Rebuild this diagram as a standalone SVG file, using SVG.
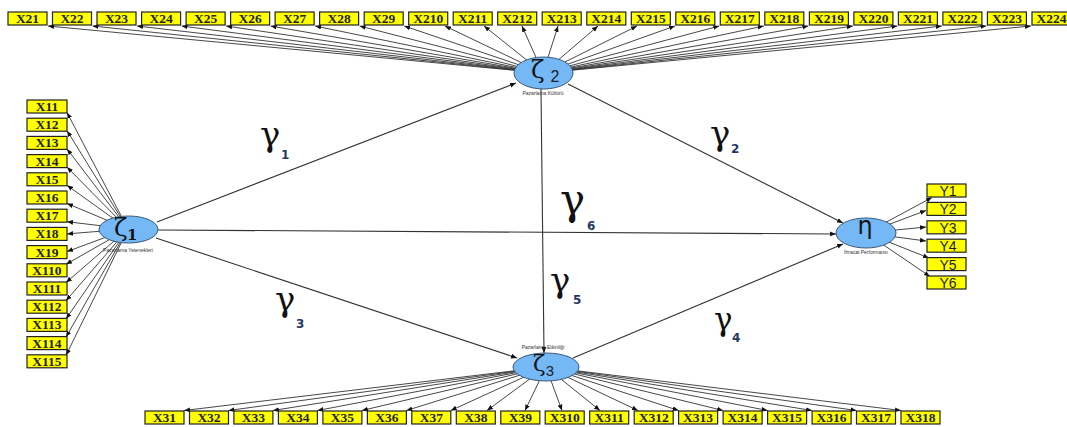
<svg xmlns="http://www.w3.org/2000/svg" width="1067" height="427" viewBox="0 0 1067 427">
<style>
.bx{fill:#ffff00;stroke:#222;stroke-width:1.2}
.bt{font-family:"Liberation Serif",serif;font-weight:bold;font-size:13.5px;fill:#222;text-anchor:middle}
.yt{font-family:"Liberation Sans",sans-serif;font-size:14px;fill:#222;text-anchor:middle}
.el{fill:#74b8f6;stroke:#3a5878;stroke-width:1}
.ln{stroke:#333;stroke-width:0.9;fill:none;marker-end:url(#a)}
.mn{stroke:#333;stroke-width:1.1;fill:none;marker-end:url(#a)}
.cap{font-family:"Liberation Sans",sans-serif;font-size:5px;fill:#333;text-anchor:middle}
.gk{font-family:"DejaVu Serif",serif;fill:#111}
.g{font-family:"DejaVu Serif",serif;fill:#111}
.sb{font-family:"DejaVu Sans",sans-serif;font-size:12px;font-weight:bold;fill:#1f3864}
</style>
<defs>
<marker id="a" viewBox="0 0 10 10" refX="10" refY="5" markerWidth="6" markerHeight="6" markerUnits="userSpaceOnUse" orient="auto"><path d="M0,1 L10,5 L0,9z" fill="#111"/></marker>
</defs>
<rect width="1067" height="427" fill="#fff"/>
<g id="connectors">
<path class="ln" d="M543,73 L48,26"/><path class="ln" d="M543,73 L92.5,26"/><path class="ln" d="M543,73 L137,26"/><path class="ln" d="M543,73 L181.6,26"/><path class="ln" d="M543,73 L226.1,26"/><path class="ln" d="M543,73 L270.6,26"/><path class="ln" d="M543,73 L315.1,26"/><path class="ln" d="M543,73 L359.6,26"/><path class="ln" d="M543,73 L404.2,26"/><path class="ln" d="M543,73 L445,26"/><path class="ln" d="M543,73 L484,26"/><path class="ln" d="M543,73 L522,26"/><path class="ln" d="M543,73 L558,26"/><path class="ln" d="M543,73 L598,26"/><path class="ln" d="M543,73 L637,26"/><path class="ln" d="M543,73 L675,26"/><path class="ln" d="M543,73 L719.3,26"/><path class="ln" d="M543,73 L763.8,26"/><path class="ln" d="M543,73 L808.4,26"/><path class="ln" d="M543,73 L852.9,26"/><path class="ln" d="M543,73 L897.4,26"/><path class="ln" d="M543,73 L941.9,26"/><path class="ln" d="M543,73 L986.4,26"/><path class="ln" d="M543,73 L1031,26"/>
<path class="ln" d="M128,229 L67,112.5"/><path class="ln" d="M128,229 L67,130.7"/><path class="ln" d="M128,229 L67,148.9"/><path class="ln" d="M128,229 L67,167.1"/><path class="ln" d="M128,229 L67,185.3"/><path class="ln" d="M128,229 L67,203.5"/><path class="ln" d="M128,229 L67,221.7"/><path class="ln" d="M128,229 L67,233.9"/><path class="ln" d="M128,229 L67,251.6"/><path class="ln" d="M128,229 L66,264.3"/><path class="ln" d="M128,229 L66,282.5"/><path class="ln" d="M128,229 L66,300.7"/><path class="ln" d="M128,229 L66,318.9"/><path class="ln" d="M128,229 L66,337.1"/><path class="ln" d="M128,229 L66,355.3"/>
<path class="ln" d="M866,233 L932,197.5"/><path class="ln" d="M866,233 L926,210.5"/><path class="ln" d="M866,233 L926,227"/><path class="ln" d="M866,233 L926,241"/><path class="ln" d="M866,233 L929,258"/><path class="ln" d="M866,233 L930,276.5"/>
<path class="ln" d="M546,367 L184,410.5"/><path class="ln" d="M546,367 L228.5,410.5"/><path class="ln" d="M546,367 L272.9,410.5"/><path class="ln" d="M546,367 L317.4,410.5"/><path class="ln" d="M546,367 L361.9,410.5"/><path class="ln" d="M546,367 L406.4,410.5"/><path class="ln" d="M546,367 L450.8,410.5"/><path class="ln" d="M546,367 L487,410.5"/><path class="ln" d="M546,367 L525,410.5"/><path class="ln" d="M546,367 L562,410.5"/><path class="ln" d="M546,367 L600,410.5"/><path class="ln" d="M546,367 L638,410.5"/><path class="ln" d="M546,367 L678.6,410.5"/><path class="ln" d="M546,367 L723.1,410.5"/><path class="ln" d="M546,367 L767.6,410.5"/><path class="ln" d="M546,367 L812.1,410.5"/><path class="ln" d="M546,367 L856.5,410.5"/><path class="ln" d="M546,367 L901,410.5"/>
<path class="mn" d="M157,222 L516,83"/>
<path class="mn" d="M158,230 L836,234"/>
<path class="mn" d="M156,238 L517,358"/>
<path class="mn" d="M568,84 L843,223"/>
<path class="mn" d="M573,358 L843,244"/>
<path class="mn" d="M541,89 L544,353"/>
</g>
<g id="zeta1"><ellipse class="el" cx="128.5" cy="229.5" rx="29.5" ry="13.5"/><text class="gk" x="114" y="236" font-size="25">ζ</text><text class="g" x="127" y="240" font-size="15" font-weight="bold">1</text><text class="cap" x="128" y="252">Pazarlama Yetenekleri</text></g>
<g id="zeta2"><ellipse class="el" cx="543.5" cy="73" rx="29.5" ry="16"/><text class="gk" x="531" y="78" font-size="25">ζ</text><text class="yt" x="555" y="82" style="font-size:16px">2</text><text class="cap" x="543" y="95">Pazarlama Kültürü</text></g>
<g id="zeta3"><ellipse class="el" cx="546" cy="367" rx="33" ry="14"/><text class="gk" x="533" y="371" font-size="23">ζ</text><text class="yt" x="550" y="376" style="font-size:15px">3</text><text class="cap" x="543" y="349">Pazarlama Etkinliği</text></g>
<g id="eta"><ellipse class="el" cx="866" cy="233" rx="30" ry="15"/><text x="865" y="234" font-size="24" text-anchor="middle" font-family="DejaVu Sans, sans-serif" fill="#111">η</text><text class="cap" x="866" y="254">İhracat Performansı</text></g>
<g id="X21"><rect class="bx" x="8" y="12" width="39" height="13"/><text class="bt" x="27.5" y="23">X21</text></g>
<g id="X22"><rect class="bx" x="52.5" y="12" width="39" height="13"/><text class="bt" x="72" y="23">X22</text></g>
<g id="X23"><rect class="bx" x="97" y="12" width="39" height="13"/><text class="bt" x="116.5" y="23">X23</text></g>
<g id="X24"><rect class="bx" x="141.6" y="12" width="39" height="13"/><text class="bt" x="161.1" y="23">X24</text></g>
<g id="X25"><rect class="bx" x="186.1" y="12" width="39" height="13"/><text class="bt" x="205.6" y="23">X25</text></g>
<g id="X26"><rect class="bx" x="230.6" y="12" width="39" height="13"/><text class="bt" x="250.1" y="23">X26</text></g>
<g id="X27"><rect class="bx" x="275.1" y="12" width="39" height="13"/><text class="bt" x="294.6" y="23">X27</text></g>
<g id="X28"><rect class="bx" x="319.6" y="12" width="39" height="13"/><text class="bt" x="339.1" y="23">X28</text></g>
<g id="X29"><rect class="bx" x="364.2" y="12" width="39" height="13"/><text class="bt" x="383.7" y="23">X29</text></g>
<g id="X210"><rect class="bx" x="408.7" y="12" width="39" height="13"/><text class="bt" x="428.2" y="23">X210</text></g>
<g id="X211"><rect class="bx" x="453.2" y="12" width="39" height="13"/><text class="bt" x="472.7" y="23">X211</text></g>
<g id="X212"><rect class="bx" x="497.7" y="12" width="39" height="13"/><text class="bt" x="517.2" y="23">X212</text></g>
<g id="X213"><rect class="bx" x="542.2" y="12" width="39" height="13"/><text class="bt" x="561.7" y="23">X213</text></g>
<g id="X214"><rect class="bx" x="586.8" y="12" width="39" height="13"/><text class="bt" x="606.3" y="23">X214</text></g>
<g id="X215"><rect class="bx" x="631.3" y="12" width="39" height="13"/><text class="bt" x="650.8" y="23">X215</text></g>
<g id="X216"><rect class="bx" x="675.8" y="12" width="39" height="13"/><text class="bt" x="695.3" y="23">X216</text></g>
<g id="X217"><rect class="bx" x="720.3" y="12" width="39" height="13"/><text class="bt" x="739.8" y="23">X217</text></g>
<g id="X218"><rect class="bx" x="764.8" y="12" width="39" height="13"/><text class="bt" x="784.3" y="23">X218</text></g>
<g id="X219"><rect class="bx" x="809.4" y="12" width="39" height="13"/><text class="bt" x="828.9" y="23">X219</text></g>
<g id="X220"><rect class="bx" x="853.9" y="12" width="39" height="13"/><text class="bt" x="873.4" y="23">X220</text></g>
<g id="X221"><rect class="bx" x="898.4" y="12" width="39" height="13"/><text class="bt" x="917.9" y="23">X221</text></g>
<g id="X222"><rect class="bx" x="942.9" y="12" width="39" height="13"/><text class="bt" x="962.4" y="23">X222</text></g>
<g id="X223"><rect class="bx" x="987.4" y="12" width="39" height="13"/><text class="bt" x="1006.9" y="23">X223</text></g>
<g id="X224"><rect class="bx" x="1032" y="12" width="39" height="13"/><text class="bt" x="1051.5" y="23">X224</text></g>
<g id="X11"><rect class="bx" x="27" y="100" width="40" height="13"/><text class="bt" x="47" y="111">X11</text></g>
<g id="X12"><rect class="bx" x="27" y="118.2" width="40" height="13"/><text class="bt" x="47" y="129.2">X12</text></g>
<g id="X13"><rect class="bx" x="27" y="136.4" width="40" height="13"/><text class="bt" x="47" y="147.4">X13</text></g>
<g id="X14"><rect class="bx" x="27" y="154.6" width="40" height="13"/><text class="bt" x="47" y="165.6">X14</text></g>
<g id="X15"><rect class="bx" x="27" y="172.8" width="40" height="13"/><text class="bt" x="47" y="183.8">X15</text></g>
<g id="X16"><rect class="bx" x="27" y="191" width="40" height="13"/><text class="bt" x="47" y="202">X16</text></g>
<g id="X17"><rect class="bx" x="27" y="209.2" width="40" height="13"/><text class="bt" x="47" y="220.2">X17</text></g>
<g id="X18"><rect class="bx" x="27" y="227.4" width="40" height="13"/><text class="bt" x="47" y="238.4">X18</text></g>
<g id="X19"><rect class="bx" x="27" y="245.6" width="40" height="13"/><text class="bt" x="47" y="256.6">X19</text></g>
<g id="X110"><rect class="bx" x="27" y="263.8" width="40" height="13"/><text class="bt" x="47" y="274.8">X110</text></g>
<g id="X111"><rect class="bx" x="27" y="282" width="40" height="13"/><text class="bt" x="47" y="293">X111</text></g>
<g id="X112"><rect class="bx" x="27" y="300.2" width="40" height="13"/><text class="bt" x="47" y="311.2">X112</text></g>
<g id="X113"><rect class="bx" x="27" y="318.4" width="40" height="13"/><text class="bt" x="47" y="329.4">X113</text></g>
<g id="X114"><rect class="bx" x="27" y="336.6" width="40" height="13"/><text class="bt" x="47" y="347.6">X114</text></g>
<g id="X115"><rect class="bx" x="27" y="354.8" width="40" height="13"/><text class="bt" x="47" y="365.8">X115</text></g>
<g id="Y1"><rect class="bx" x="927" y="184" width="39" height="13"/><text class="yt" x="948" y="196">Y1</text></g>
<g id="Y2"><rect class="bx" x="927" y="202.4" width="39" height="13"/><text class="yt" x="948" y="214.4">Y2</text></g>
<g id="Y3"><rect class="bx" x="927" y="220.8" width="39" height="13"/><text class="yt" x="948" y="232.8">Y3</text></g>
<g id="Y4"><rect class="bx" x="927" y="239.2" width="39" height="13"/><text class="yt" x="948" y="251.2">Y4</text></g>
<g id="Y5"><rect class="bx" x="927" y="257.6" width="39" height="13"/><text class="yt" x="948" y="269.6">Y5</text></g>
<g id="Y6"><rect class="bx" x="927" y="276" width="39" height="13"/><text class="yt" x="948" y="288">Y6</text></g>
<g id="X31"><rect class="bx" x="145" y="411" width="39" height="13"/><text class="bt" x="164.5" y="422">X31</text></g>
<g id="X32"><rect class="bx" x="189.5" y="411" width="39" height="13"/><text class="bt" x="209" y="422">X32</text></g>
<g id="X33"><rect class="bx" x="233.9" y="411" width="39" height="13"/><text class="bt" x="253.4" y="422">X33</text></g>
<g id="X34"><rect class="bx" x="278.4" y="411" width="39" height="13"/><text class="bt" x="297.9" y="422">X34</text></g>
<g id="X35"><rect class="bx" x="322.9" y="411" width="39" height="13"/><text class="bt" x="342.4" y="422">X35</text></g>
<g id="X36"><rect class="bx" x="367.4" y="411" width="39" height="13"/><text class="bt" x="386.9" y="422">X36</text></g>
<g id="X37"><rect class="bx" x="411.8" y="411" width="39" height="13"/><text class="bt" x="431.3" y="422">X37</text></g>
<g id="X38"><rect class="bx" x="456.3" y="411" width="39" height="13"/><text class="bt" x="475.8" y="422">X38</text></g>
<g id="X39"><rect class="bx" x="500.8" y="411" width="39" height="13"/><text class="bt" x="520.3" y="422">X39</text></g>
<g id="X310"><rect class="bx" x="545.2" y="411" width="39" height="13"/><text class="bt" x="564.7" y="422">X310</text></g>
<g id="X311"><rect class="bx" x="589.7" y="411" width="39" height="13"/><text class="bt" x="609.2" y="422">X311</text></g>
<g id="X312"><rect class="bx" x="634.2" y="411" width="39" height="13"/><text class="bt" x="653.7" y="422">X312</text></g>
<g id="X313"><rect class="bx" x="678.6" y="411" width="39" height="13"/><text class="bt" x="698.1" y="422">X313</text></g>
<g id="X314"><rect class="bx" x="723.1" y="411" width="39" height="13"/><text class="bt" x="742.6" y="422">X314</text></g>
<g id="X315"><rect class="bx" x="767.6" y="411" width="39" height="13"/><text class="bt" x="787.1" y="422">X315</text></g>
<g id="X316"><rect class="bx" x="812.1" y="411" width="39" height="13"/><text class="bt" x="831.6" y="422">X316</text></g>
<g id="X317"><rect class="bx" x="856.5" y="411" width="39" height="13"/><text class="bt" x="876" y="422">X317</text></g>
<g id="X318"><rect class="bx" x="901" y="411" width="39" height="13"/><text class="bt" x="920.5" y="422">X318</text></g>
<g id="labels">
<text class="g" x="260" y="146" font-size="34">γ</text><text class="sb" x="281" y="159">1</text>
<text class="g" x="710" y="145" font-size="34">γ</text><text class="sb" x="731" y="153">2</text>
<text class="g" x="275" y="311" font-size="34">γ</text><text class="sb" x="296" y="328">3</text>
<text class="g" x="714" y="330" font-size="31">γ</text><text class="sb" x="732" y="342">4</text>
<text class="g" x="550" y="292" font-size="34">γ</text><text class="sb" x="573" y="304">5</text>
<text class="g" x="560" y="214" font-size="42">γ</text><text class="sb" x="587" y="230">6</text>
</g>
</svg>
